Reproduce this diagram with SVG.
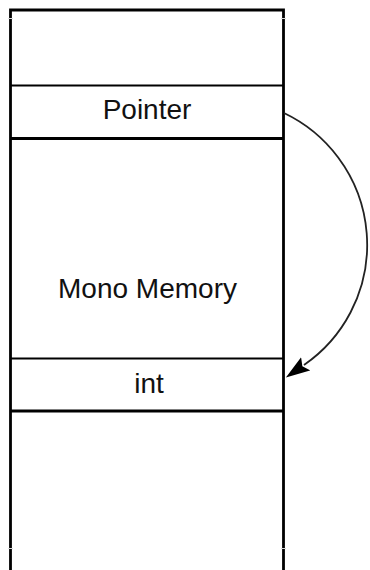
<svg xmlns="http://www.w3.org/2000/svg" width="370" height="570" viewBox="0 0 370 570">
  <style>
    .wall { stroke: #000; stroke-width: 2.8; fill: none; }
    .sep { stroke: #000; stroke-width: 2.2; }
    .sep-bold { stroke: #000; stroke-width: 3.2; }
    .tick { stroke: #d8d8d8; stroke-width: 1; }
    .label { font-family: "Liberation Sans", Arial, sans-serif; font-size: 28px; fill: #111; text-anchor: middle; }
    .link { stroke: #222; stroke-width: 1.8; fill: none; }
  </style>
  <defs>
    <marker id="head" markerUnits="userSpaceOnUse" markerWidth="26" markerHeight="18" refX="2" refY="8" orient="auto">
      <path d="M0,0 L24,8 L0,16 L4,8 z" fill="#000"/>
    </marker>
  </defs>
  <rect width="370" height="570" fill="#fff"/>

  <!-- memory column outline -->
  <g id="column">
    <path class="wall" d="M10.5,570 V10 H283.5 V570"/>
    <line class="tick" x1="8" y1="18.5" x2="13" y2="18.5"/>
    <line class="tick" x1="281" y1="18.5" x2="286" y2="18.5"/>
    <line class="tick" x1="8" y1="548.5" x2="13" y2="548.5"/>
    <line class="tick" x1="281" y1="548.5" x2="286" y2="548.5"/>
  </g>

  <g id="pointer">
    <line class="sep" x1="10.5" y1="85.5" x2="283.5" y2="85.5"/>
    <line class="sep-bold" x1="10.5" y1="138.5" x2="283.5" y2="138.5"/>
    <text class="label" x="147" y="119">Pointer</text>
  </g>

  <g id="mono-memory">
    <text class="label" x="147.5" y="298">Mono Memory</text>
  </g>

  <g id="int">
    <line class="sep" x1="10.5" y1="358.5" x2="283.5" y2="358.5"/>
    <line class="sep-bold" x1="10.5" y1="411" x2="283.5" y2="411"/>
    <text class="label" x="149" y="393">int</text>
  </g>

  <g id="connectors">
    <path class="link" d="M284,113 A146,146 0 0 1 304,365" marker-end="url(#head)"/>
  </g>
</svg>
